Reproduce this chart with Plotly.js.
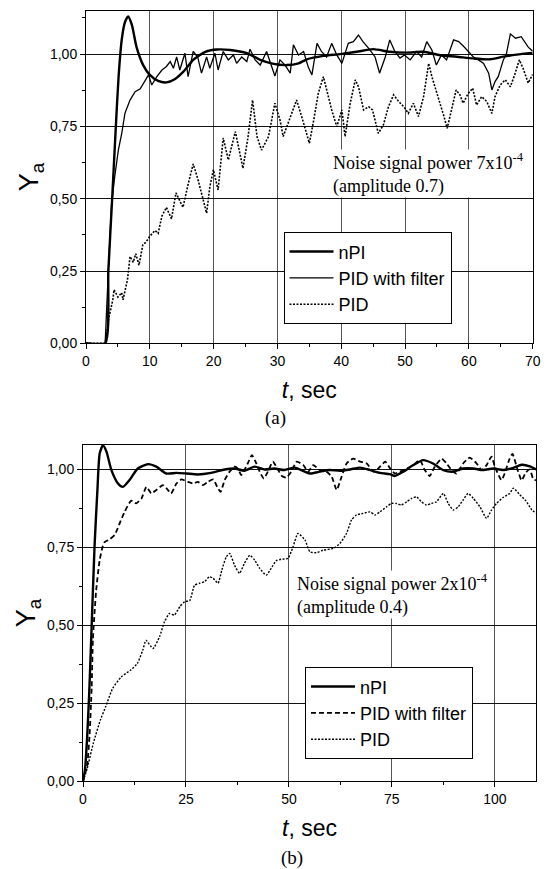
<!DOCTYPE html>
<html>
<head>
<meta charset="utf-8">
<script src="https://cdn.plot.ly/plotly-3.0.1.min.js"></script>
<style>html,body{margin:0;padding:0;background:#fff;}</style>
</head>
<body>
<div id="chart" style="width:548px;height:869px;"></div>
<script>
// ---------- Panel (a): noise power 7x10^-4 ----------
const seriesNames = ['nPI', 'PID with filter', 'PID'];

const a_nPI_t = [0, 3.0, 3.5, 4.1, 4.7, 5.1, 5.6, 6.1, 6.6, 7.2, 7.9, 9.0, 10.0, 11.3, 12.6, 13.9, 15.3, 16.8, 18.7, 20.5, 22.6, 25.2, 27.3, 29.4, 31.5, 33.3, 34.6, 37.2, 39.8, 42.4, 45.0, 47.6, 50.3, 52.9, 55.5, 58.1, 60.7, 63.3, 65.4, 67.5, 70];
const a_nPI_y = [0, 0, 0.25, 0.5, 0.76, 0.92, 1.05, 1.11, 1.13, 1.10, 1.026, 0.96, 0.928, 0.907, 0.902, 0.913, 0.94, 0.98, 1.008, 1.016, 1.014, 1.003, 0.98, 0.966, 0.962, 0.968, 0.982, 0.994, 1.0, 1.008, 1.017, 1.008, 1.005, 1.008, 0.996, 0.991, 0.985, 0.982, 0.991, 0.998, 1.004];

const a_filt_t = [0, 3.0, 3.5, 4.0, 4.5, 5.07, 5.6, 6.1, 6.9, 7.7, 8.5, 9.2, 9.8, 10.3, 11.1, 11.9, 12.6, 13.2, 13.7, 14.2, 14.7, 15.5, 16.0, 16.8, 17.5, 18.1, 18.9, 19.4, 20.2, 20.7, 21.5, 22.3, 23.1, 23.6, 24.4, 25.2, 25.7, 26.5, 27.3, 28.3, 29.1, 29.6, 30.4, 31.2, 32.0, 32.5, 33.3, 34.1, 34.8, 35.4, 36.2, 36.9, 37.7, 38.5, 39.3, 40.1, 41.1, 41.9, 42.7, 43.4, 44.3, 45.3, 46.0, 46.9, 47.6, 48.4, 49.2, 49.9, 50.8, 51.8, 52.6, 53.4, 54.2, 54.9, 55.7, 56.5, 57.6, 58.4, 59.2, 59.9, 60.7, 61.5, 62.3, 63.1, 63.6, 64.1, 64.6, 65.4, 65.9, 66.5, 67.3, 68.2, 69.3, 70];
const a_filt_y = [0, 0, 0.25, 0.48, 0.576, 0.668, 0.726, 0.795, 0.841, 0.87, 0.88, 0.905, 0.928, 0.893, 0.922, 0.945, 0.957, 0.974, 0.951, 0.99, 0.945, 1.003, 0.922, 1.009, 0.99, 0.934, 0.99, 0.951, 1.003, 0.945, 1.009, 0.98, 0.997, 0.968, 0.99, 0.974, 1.017, 0.98, 0.962, 1.009, 0.957, 0.924, 0.98, 0.962, 0.934, 1.032, 0.997, 1.009, 0.957, 0.928, 1.037, 1.009, 0.99, 1.037, 0.997, 0.968, 1.037, 1.043, 1.066, 1.043, 1.02, 0.99, 0.934, 0.99, 1.049, 1.009, 0.986, 0.997, 0.98, 1.009, 0.99, 1.043, 1.014, 0.962, 0.997, 0.98, 1.049, 1.043, 1.026, 1.009, 0.99, 0.98, 0.968, 0.934, 0.876, 0.905, 0.922, 0.98, 1.003, 1.07, 1.055, 1.06, 1.024, 1.01];

const a_pid_t = [0, 3.0, 3.3, 3.6, 4.2, 4.4, 5.0, 5.6, 5.8, 6.5, 6.9, 7.4, 7.8, 8.3, 8.9, 9.4, 10.0, 10.8, 11.3, 11.9, 12.6, 13.4, 14.1, 15.2, 16.0, 16.8, 17.5, 18.3, 18.9, 19.4, 19.96, 20.7, 21.5, 22.3, 23.4, 24.6, 25.4, 26.1, 26.8, 27.5, 28.6, 29.6, 30.4, 30.9, 31.7, 33.0, 33.8, 34.3, 35.0, 35.6, 36.4, 37.2, 38.0, 38.5, 39.3, 40.1, 40.6, 41.4, 42.2, 42.7, 43.5, 44.3, 44.9, 45.8, 46.6, 47.4, 48.2, 49.0, 49.8, 50.5, 51.3, 52.1, 52.9, 53.7, 54.2, 54.7, 55.5, 56.1, 56.6, 57.3, 58.0, 58.6, 59.1, 59.9, 60.6, 61.2, 62.0, 62.8, 63.6, 64.1, 64.9, 65.7, 66.5, 67.2, 67.9, 68.5, 69.3, 70];
const a_pid_y = [0, 0, 0.04, 0.09, 0.15, 0.185, 0.16, 0.175, 0.15, 0.22, 0.3, 0.28, 0.31, 0.27, 0.34, 0.35, 0.37, 0.39, 0.38, 0.44, 0.47, 0.43, 0.52, 0.47, 0.55, 0.62, 0.57, 0.50, 0.45, 0.54, 0.6, 0.53, 0.71, 0.634, 0.732, 0.605, 0.715, 0.841, 0.715, 0.668, 0.715, 0.83, 0.772, 0.715, 0.761, 0.841, 0.784, 0.749, 0.692, 0.761, 0.864, 0.922, 0.853, 0.807, 0.749, 0.807, 0.715, 0.83, 0.911, 0.887, 0.807, 0.818, 0.807, 0.726, 0.755, 0.818, 0.859, 0.836, 0.818, 0.795, 0.83, 0.784, 0.853, 0.968, 0.922, 0.887, 0.83, 0.784, 0.743, 0.807, 0.876, 0.859, 0.83, 0.864, 0.882, 0.824, 0.853, 0.836, 0.795, 0.853, 0.893, 0.911, 0.887, 0.93, 0.98, 0.95, 0.9, 0.93];

// ---------- Panel (b): noise power 2x10^-4 ----------
const b_nPI_t = [0, 0.5, 1.0, 1.5, 2.0, 2.8, 3.5, 4.05, 4.85, 5.7, 6.9, 8.5, 9.7, 11.3, 13.3, 15.8, 17.8, 20.2, 22.7, 25.1, 27.9, 31.1, 34.4, 36.8, 39.2, 41.7, 44.1, 46.5, 48.9, 51.4, 55.1, 57.5, 59.9, 62.4, 64.8, 67.3, 69.7, 72.1, 74.5, 75.7, 77.8, 80.2, 82.6, 85.0, 87.5, 89.9, 92.3, 94.8, 97.2, 99.6, 102.0, 104.5, 106.5, 108.5, 110];
const b_nPI_y = [0, 0.04, 0.14, 0.28, 0.46, 0.752, 0.934, 1.051, 1.078, 1.057, 0.998, 0.955, 0.944, 0.966, 1.003, 1.017, 1.009, 0.987, 0.989, 0.987, 0.984, 0.989, 1.0, 1.003, 0.996, 1.009, 1.0, 1.003, 0.998, 1.006, 0.987, 0.993, 0.998, 0.996, 1.0, 1.006, 0.998, 0.989, 0.985, 0.979, 0.993, 1.014, 1.03, 1.019, 0.998, 0.993, 1.003, 1.003, 0.998, 1.003, 0.998, 1.005, 1.015, 1.01, 1.0];

const b_filt_t = [0, 1.0, 1.6, 2.1, 2.4, 3.2, 4.05, 5.1, 6.5, 7.7, 8.9, 10.1, 11.7, 12.9, 14.2, 15.4, 16.6, 17.8, 19.4, 20.5, 21.4, 22.7, 23.9, 25.5, 26.7, 27.9, 29.1, 30.3, 31.6, 32.6, 33.4, 34.4, 35.6, 36.8, 37.6, 38.4, 39.2, 40.0, 41.0, 42.1, 42.9, 43.9, 44.9, 46.1, 47.2, 48.3, 49.4, 50.6, 51.9, 53.5, 54.7, 55.9, 57.5, 59.1, 60.4, 61.6, 62.8, 64.0, 65.6, 67.3, 68.9, 70.5, 71.7, 73.4, 74.6, 75.7, 76.9, 78.6, 80.2, 81.8, 83.0, 84.2, 85.4, 87.1, 88.3, 89.5, 90.7, 92.3, 93.9, 95.6, 96.8, 98.0, 99.2, 100.0, 101.6, 102.4, 103.6, 104.3, 105.5, 106.5, 107.5, 108.5, 109.3, 110];
const b_filt_y = [0, 0.05, 0.15, 0.3, 0.453, 0.613, 0.709, 0.765, 0.776, 0.79, 0.827, 0.864, 0.9, 0.891, 0.907, 0.944, 0.923, 0.934, 0.95, 0.936, 0.923, 0.955, 0.968, 0.96, 0.955, 0.96, 0.95, 0.96, 0.968, 0.944, 0.928, 0.966, 0.993, 1.009, 1.003, 0.982, 0.998, 1.019, 1.046, 1.019, 0.993, 0.971, 0.993, 1.025, 1.003, 0.979, 0.974, 0.993, 1.025, 1.014, 0.993, 1.014, 0.998, 0.993, 0.977, 0.934, 0.977, 1.019, 1.035, 1.025, 1.019, 0.993, 1.003, 1.025, 1.003, 0.987, 0.993, 1.003, 1.014, 1.03, 0.998, 0.979, 1.009, 1.035, 1.019, 0.998, 0.987, 1.019, 1.038, 1.019, 0.998, 1.014, 1.041, 1.009, 0.966, 0.987, 1.035, 1.05, 1.0, 0.965, 0.99, 1.0, 0.97, 0.965];

const b_pid_t = [0, 1.0, 2.5, 4.2, 5.5, 7.2, 9.3, 11.5, 13.2, 14.5, 15.3, 17.0, 18.6, 19.8, 21.0, 22.2, 23.5, 24.7, 25.9, 27.1, 28.3, 29.5, 30.7, 31.6, 32.8, 33.7, 34.8, 35.6, 36.8, 38.0, 39.2, 40.5, 41.7, 42.9, 44.5, 45.7, 46.9, 48.1, 49.8, 51.0, 52.2, 53.9, 55.1, 56.7, 58.3, 60.8, 62.4, 64.0, 65.2, 66.4, 68.0, 69.7, 70.9, 72.1, 73.7, 74.9, 76.1, 77.3, 78.6, 79.8, 81.0, 82.2, 83.4, 84.6, 85.8, 87.5, 88.7, 89.9, 91.1, 92.3, 93.5, 94.8, 96.4, 98.0, 99.2, 100.4, 102.0, 103.6, 104.5, 106.0, 107.5, 109.0, 110];
const b_pid_y = [0, 0.04, 0.122, 0.196, 0.239, 0.298, 0.335, 0.356, 0.378, 0.42, 0.452, 0.426, 0.464, 0.512, 0.538, 0.533, 0.56, 0.576, 0.579, 0.629, 0.635, 0.64, 0.656, 0.651, 0.635, 0.677, 0.72, 0.731, 0.693, 0.667, 0.699, 0.725, 0.709, 0.683, 0.661, 0.683, 0.707, 0.712, 0.715, 0.752, 0.795, 0.774, 0.736, 0.733, 0.741, 0.747, 0.763, 0.795, 0.838, 0.854, 0.859, 0.864, 0.854, 0.864, 0.88, 0.891, 0.891, 0.886, 0.896, 0.907, 0.912, 0.896, 0.886, 0.891, 0.896, 0.923, 0.891, 0.87, 0.88, 0.902, 0.923, 0.907, 0.88, 0.843, 0.87, 0.891, 0.91, 0.923, 0.94, 0.92, 0.9, 0.87, 0.86];

const yTickVals = [0, 0.25, 0.5, 0.75, 1.0];
const aTickVals = [0, 10, 20, 30, 40, 50, 60, 70];
const bTickVals = [0, 25, 50, 75, 100];

const SANS = 'Arial, "Liberation Sans", sans-serif';
const SERIF = '"Times New Roman", "Liberation Serif", serif';

const traces = [
  {x: a_nPI_t, y: a_nPI_y, name: seriesNames[0], xaxis: 'x', yaxis: 'y', legend: 'legend', mode: 'lines',
   line: {color: '#000', width: 2.4, shape: 'spline', smoothing: 0.6}},
  {x: a_filt_t, y: a_filt_y, name: seriesNames[1], xaxis: 'x', yaxis: 'y', legend: 'legend', mode: 'lines',
   line: {color: '#000', width: 1.3}},
  {x: a_pid_t, y: a_pid_y, name: seriesNames[2], xaxis: 'x', yaxis: 'y', legend: 'legend', mode: 'lines',
   line: {color: '#000', width: 1.6, dash: '2px,1.5px'}},
  {x: b_nPI_t, y: b_nPI_y, name: seriesNames[0], xaxis: 'x2', yaxis: 'y2', legend: 'legend2', mode: 'lines',
   line: {color: '#000', width: 2.4, shape: 'spline', smoothing: 0.6}},
  {x: b_filt_t, y: b_filt_y, name: seriesNames[1], xaxis: 'x2', yaxis: 'y2', legend: 'legend2', mode: 'lines',
   line: {color: '#000', width: 1.8, dash: '5px,3px', shape: 'spline', smoothing: 0.5}},
  {x: b_pid_t, y: b_pid_y, name: seriesNames[2], xaxis: 'x2', yaxis: 'y2', legend: 'legend2', mode: 'lines',
   line: {color: '#000', width: 1.4, dash: '2px,1.5px', shape: 'spline', smoothing: 0.5}}
];

const W = 548, H = 869;
function px(x) { return x / W; }
function py(y) { return 1 - y / H; }

function xAxis(domain, range, ticks, minorStep) {
  return {
    domain: domain, range: range, tickvals: ticks, ticktext: ticks.map(String),
    showline: true, mirror: true, linecolor: '#000', linewidth: 1,
    showgrid: true, gridcolor: '#555', gridwidth: 1, zeroline: false,
    ticks: 'outside', ticklen: 5, tickcolor: '#000', tickwidth: 1,
    minor: {dtick: minorStep, tick0: 0, ticks: 'outside', ticklen: 3, tickcolor: '#000', showgrid: false},
    tickfont: {family: SANS, size: 14, color: '#000'},
    title: {text: '<i>t</i>, sec', font: {family: SANS, size: 23, color: '#000'}, standoff: 13},
    fixedrange: true
  };
}
function yAxis(domain, range, anchor) {
  return {
    domain: domain, range: range, anchor: anchor, tickvals: yTickVals, tickformat: '.2f',
    showline: true, mirror: true, linecolor: '#000', linewidth: 1,
    showgrid: true, gridcolor: '#111', gridwidth: 1, zeroline: false,
    ticks: 'outside', ticklen: 5, tickcolor: '#000', tickwidth: 1,
    minor: {dtick: 0.125, tick0: 0, ticks: 'outside', ticklen: 3, tickcolor: '#000', showgrid: false},
    tickfont: {family: SANS, size: 14, color: '#000'},
    title: {text: 'Y<sub>a</sub>', font: {family: SANS, size: 27, color: '#000'}, standoff: 3},
    fixedrange: true
  };
}

const legendStyle = {
  xanchor: 'left', yanchor: 'top', bgcolor: '#fff', bordercolor: '#000', borderwidth: 1,
  font: {family: SANS, size: 18, color: '#000'}, traceorder: 'normal', itemwidth: 44
};

const noteFont = {family: SERIF, size: 18, color: '#000'};

const layout = {
  width: W, height: H,
  margin: {l: 0, r: 0, t: 0, b: 0},
  paper_bgcolor: '#fff', plot_bgcolor: '#fff',
  separators: ', ',
  showlegend: true,
  xaxis: Object.assign(xAxis([px(86), px(532.7)], [0, 70], aTickVals, 5), {anchor: 'y'}),
  yaxis: yAxis([py(343.3), py(10.7)], [0, 1.15], 'x'),
  xaxis2: Object.assign(xAxis([px(83), px(536)], [0, 110], bTickVals, 12.5), {anchor: 'y2'}),
  yaxis2: yAxis([py(781.3), py(444.5)], [0, 1.08], 'x2'),
  legend: Object.assign({x: px(283.5), y: py(232.3)}, legendStyle),
  legend2: Object.assign({x: px(305), y: py(667.3)}, legendStyle),
  annotations: [
    {text: 'Noise signal power 7x10<sup>-4</sup><br>(amplitude 0.7)', align: 'left', xref: 'paper', yref: 'paper',
     x: px(332), y: py(173), xanchor: 'left', yanchor: 'middle', showarrow: false,
     bgcolor: '#fff', borderpad: 0, font: noteFont},
    {text: 'Noise signal power 2x10<sup>-4</sup><br>(amplitude 0.4)', align: 'left', xref: 'paper', yref: 'paper',
     x: px(295.5), y: py(594), xanchor: 'left', yanchor: 'middle', showarrow: false,
     bgcolor: '#fff', borderpad: 0, font: noteFont},
    {text: '(a)', xref: 'paper', yref: 'paper', x: px(275), y: py(418),
     xanchor: 'center', yanchor: 'middle', showarrow: false, font: {family: SERIF, size: 19, color: '#000'}},
    {text: '(b)', xref: 'paper', yref: 'paper', x: px(292), y: py(858),
     xanchor: 'center', yanchor: 'middle', showarrow: false, font: {family: SERIF, size: 19, color: '#000'}}
  ]
};

Plotly.newPlot('chart', traces, layout, {displayModeBar: false, staticPlot: true});
</script>
</body>
</html>
